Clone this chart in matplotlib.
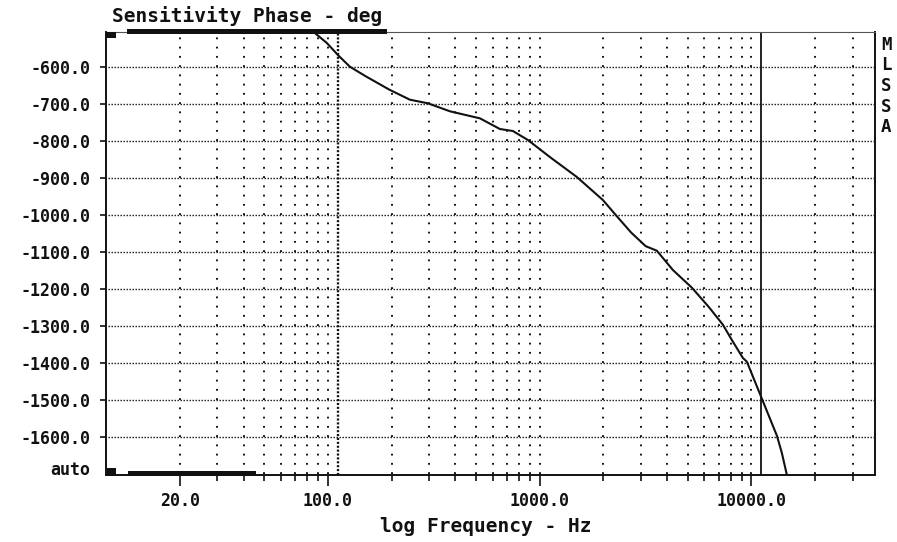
import matplotlib
matplotlib.use("Agg")
import matplotlib.pyplot as plt
from matplotlib.patches import Rectangle

plt.rcParams['lines.scale_dashes'] = False
plt.rcParams['axes.unicode_minus'] = False

# ---- data ----
freq_hz = [81.4, 86.8, 98.9, 111.5, 118.9, 127.0, 151.0, 195.0, 243.9, 296.6,
           376.7, 468.1, 522.0, 648.8, 747.1, 879.7, 1117, 1498, 1988, 2265,
           2700, 3165, 3574, 4256, 5232, 6300, 7328, 8079, 9109, 9512, 11198,
           13183, 13916, 14694, 15019]
phase_deg = [-495.4, -508.9, -536.0, -568.4, -584.0, -600.0, -626.0, -662.0,
             -689.2, -698.9, -720.5, -733.2, -739.5, -768.4, -773.8, -798.1,
             -844.1, -898.1, -960.3, -998.1, -1048.0, -1085.0, -1097.3,
             -1149.5, -1197.3, -1250.0, -1297.3, -1338.6, -1387.3, -1397.3,
             -1497.3, -1597.3, -1644.1, -1703.5, -1727.8]

y_ticks = [-600, -700, -800, -900, -1000, -1100, -1200, -1300, -1400, -1500, -1600]
y_tick_labels = ["-600.0", "-700.0", "-800.0", "-900.0", "-1000.0", "-1100.0",
                 "-1200.0", "-1300.0", "-1400.0", "-1500.0", "-1600.0"]
x_major = [20, 100, 1000, 10000]
x_major_labels = ["20.0", "100.0", "1000.0", "10000.0"]
x_minor = [30, 40, 50, 60, 70, 80, 90,
           200, 300, 400, 500, 600, 700, 800, 900,
           2000, 3000, 4000, 5000, 6000, 7000, 8000, 9000,
           20000, 30000]
x_grid = [20, 30, 40, 50, 60, 70, 80, 90, 100,
          200, 300, 400, 500, 600, 700, 800, 900, 1000,
          2000, 3000, 4000, 5000, 6000, 7000, 8000, 9000, 10000,
          20000, 30000]
cursor_a_hz = 111.5
cursor_b_hz = 11080
x_limits = (8.96, 38300)
y_limits = (-1704.3, -505.4)

title_text = "Sensitivity Phase - deg"
xlabel_text = "log Frequency - Hz"
side_letters = ["M", "L", "S", "S", "A"]
auto_text = "auto"

# ---- figure ----
W, H = 897, 542
fig = plt.figure(figsize=(W / 100, H / 100), dpi=100)
fig.patch.set_facecolor("white")

def fx(px):
    return px / W

def fy(py):
    return 1 - py / H

L, R, T, B = 106, 875, 31.7, 475.3
ax = fig.add_axes([fx(L), fy(B), fx(R) - fx(L), fy(T) - fy(B)])
ax.set_xscale("log")
ax.set_xlim(*x_limits)
ax.set_ylim(*y_limits)

mono = "DejaVu Sans Mono"
ink = "#111111"

# grid: horizontal dense dots, vertical sparse dots every 25 deg
ax.hlines(y_ticks, x_limits[0] * 1.02, x_limits[1] * 0.985, colors=ink,
          linewidth=1.0, linestyles=[(0, (1.0, 1.16))], zorder=1)
ax.vlines(x_grid, -1700, -500, colors=ink, linewidth=1.4,
          linestyles=[(0, (1.3, 5.36))], zorder=1)

# cursors
ax.axvline(cursor_a_hz, color=ink, linewidth=1.7, linestyle=(0, (1.5, 1.3)), zorder=2)
ax.axvline(cursor_b_hz, color=ink, linewidth=1.3, zorder=2)

# curve
ax.plot(freq_hz, phase_deg, color=ink, linewidth=1.5, zorder=3,
        solid_joinstyle="round")

# spines
for s in ["left", "bottom", "right"]:
    ax.spines[s].set_linewidth(1.4)
    ax.spines[s].set_color(ink)
ax.spines["top"].set_linewidth(0.8)
ax.spines["top"].set_color("#555555")

# ticks
ax.set_yticks(y_ticks)
ax.set_yticklabels(y_tick_labels, fontfamily=mono, fontweight="bold", fontsize=12)
ax.set_xticks(x_major)
ax.set_xticklabels(x_major_labels, fontfamily=mono, fontweight="bold", fontsize=12)
ax.set_xticks(x_minor, minor=True)
ax.xaxis.set_minor_formatter(matplotlib.ticker.NullFormatter())
ax.tick_params(axis="y", direction="out", length=4.3, width=1.2, pad=7, colors=ink)
ax.tick_params(axis="x", which="major", direction="out", length=7.8, width=1.2, pad=4, colors=ink)
ax.tick_params(axis="x", which="minor", direction="out", length=4.6, width=1.2, colors=ink)

# texts
fig.text(fx(112), fy(22), title_text, fontfamily=mono, fontweight="bold",
         fontsize=14, ha="left", va="baseline", color=ink)
fig.text(fx(486), fy(526), xlabel_text, fontfamily=mono, fontweight="bold",
         fontsize=14, ha="center", va="center", color=ink)
fig.text(fx(90), fy(470), auto_text, fontfamily=mono, fontweight="bold",
         fontsize=12, ha="right", va="center", color=ink)
for i, ch in enumerate(side_letters):
    fig.text(fx(886), fy(45 + i * 20.5), ch, fontfamily=mono, fontweight="bold",
             fontsize=12.5, ha="center", va="center", color=ink)

# scroll indicators
def prect(x0, y0, x1, y1):
    fig.add_artist(Rectangle((fx(x0), fy(y1)), fx(x1) - fx(x0), fy(y0) - fy(y1),
                             transform=fig.transFigure, facecolor=ink,
                             edgecolor="none", zorder=5))

prect(106, 32, 116, 37.5)
prect(127, 29.5, 387, 33.5)
prect(107, 467.5, 116, 476)
prect(128, 470.5, 256, 476)

fig.savefig("out.png", dpi=100, facecolor="white")
